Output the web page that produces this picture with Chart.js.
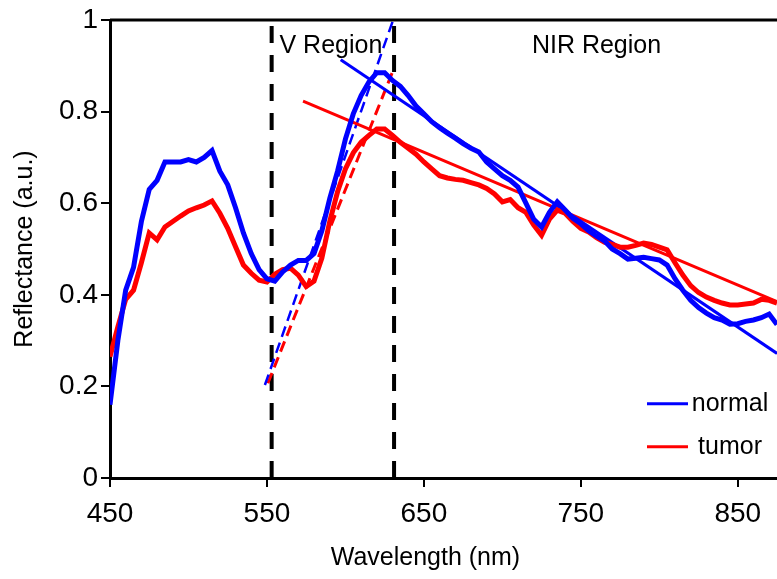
<!DOCTYPE html>
<html>
<head>
<meta charset="utf-8">
<script src="https://cdn.jsdelivr.net/npm/chart.js@4"></script>
<style>
  html, body { margin: 0; padding: 0; background: #fff; }
</style>
</head>
<body>
<canvas id="chart" width="777" height="579"></canvas>
<script>
// wavelength (nm)
const wavelengths = [450, 455, 460, 465, 470, 475, 480, 485, 490, 495,
  500, 505, 510, 515, 520, 525, 530, 535, 540, 545,
  550, 555, 560, 565, 570, 575, 580, 585, 590, 595,
  600, 605, 610, 615, 620, 625, 630, 635, 640, 645,
  650, 655, 660, 665, 670, 675, 680, 685, 690, 695,
  700, 705, 710, 715, 720, 725, 730, 735, 740, 745,
  750, 755, 760, 765, 770, 775, 780, 785, 790, 795,
  800, 805, 810, 815, 820, 825, 830, 835, 840, 845,
  850, 855, 860, 865, 870, 875];

const normal = [0.16, 0.30, 0.41, 0.46, 0.56, 0.63, 0.65, 0.69, 0.69, 0.69,
  0.695, 0.69, 0.70, 0.715, 0.67, 0.64, 0.59, 0.535, 0.49, 0.455,
  0.435, 0.43, 0.45, 0.465, 0.475, 0.475, 0.49, 0.54, 0.61, 0.67,
  0.74, 0.795, 0.835, 0.865, 0.885, 0.885, 0.868, 0.855, 0.835, 0.812,
  0.795, 0.778, 0.765, 0.753, 0.742, 0.73, 0.72, 0.712, 0.69, 0.675,
  0.66, 0.65, 0.635, 0.60, 0.565, 0.548, 0.58, 0.603, 0.585, 0.567,
  0.555, 0.54, 0.528, 0.518, 0.50, 0.49, 0.478, 0.48, 0.482, 0.479,
  0.476, 0.465, 0.435, 0.41, 0.388, 0.372, 0.36, 0.35, 0.345, 0.336,
  0.337, 0.342, 0.345, 0.35, 0.358, 0.335];

const tumor = [0.265, 0.33, 0.39, 0.41, 0.47, 0.535, 0.52, 0.548, 0.56, 0.572,
  0.583, 0.59, 0.596, 0.605, 0.578, 0.545, 0.505, 0.465, 0.447, 0.432,
  0.428, 0.445, 0.455, 0.458, 0.443, 0.418, 0.43, 0.48, 0.56, 0.625,
  0.675, 0.71, 0.733, 0.748, 0.762, 0.762, 0.748, 0.733, 0.72, 0.707,
  0.69, 0.675, 0.66, 0.655, 0.652, 0.65, 0.645, 0.64, 0.632, 0.62,
  0.603, 0.608, 0.59, 0.58, 0.552, 0.53, 0.565, 0.585, 0.578, 0.56,
  0.545, 0.537, 0.525, 0.515, 0.51, 0.504, 0.504, 0.508, 0.513, 0.51,
  0.504, 0.498, 0.47, 0.443, 0.42, 0.405, 0.395, 0.388, 0.382, 0.378,
  0.378, 0.38, 0.382, 0.39, 0.388, 0.382];

// straight fits: NIR (solid) and V region (dashed)
const normalNirX = [597, 875];
const normalNirY = [0.913, 0.272];
const tumorNirX = [573, 875];
const tumorNirY = [0.823, 0.385];
const normalVisX = [548.7, 630];
const normalVisY = [0.203, 0.996];
const tumorVisX = [550.6, 631];
const tumorVisY = [0.207, 0.895];

// region boundaries (nm)
const regionBounds = [553, 631];
const regionNames = ['V Region', 'NIR Region'];

const xTicks = [450, 550, 650, 750, 850];
const yTicks = [0, 0.2, 0.4, 0.6, 0.8, 1];
const xTitle = 'Wavelength (nm)';
const yTitle = 'Reflectance (a.u.)';

const FONT = '"Liberation Sans", Arial, sans-serif';
const pts = (xs, ys) => xs.map((x, i) => ({ x: x, y: ys[i] }));

const datasets = [
  { label: 'normal', data: pts(wavelengths, normal), borderColor: '#0000ff', borderWidth: 5 },
  { label: 'tumor', data: pts(wavelengths, tumor), borderColor: '#ff0000', borderWidth: 5 },
  { label: 'normal NIR fit', data: pts(normalNirX, normalNirY), borderColor: '#0000ff', borderWidth: 3 },
  { label: 'tumor NIR fit', data: pts(tumorNirX, tumorNirY), borderColor: '#ff0000', borderWidth: 3 },
  { label: 'normal V fit', data: pts(normalVisX, normalVisY), borderColor: '#0000ff', borderWidth: 2.5, borderDash: [11, 6] },
  { label: 'tumor V fit', data: pts(tumorVisX, tumorVisY), borderColor: '#ff0000', borderWidth: 3, borderDash: [11, 6] }
];
regionBounds.forEach(b => {
  datasets.push({ label: 'bound', data: [{ x: b, y: 0 }, { x: b, y: 1 }],
    borderColor: '#000', borderWidth: 4, borderDash: [17, 12] });
});
datasets.forEach(d => { d.pointRadius = 0; d.fill = false; d.tension = 0; });

const decor = {
  id: 'decor',
  afterDatasetsDraw(chart) {
    const { ctx, chartArea: a, scales: { x, y } } = chart;
    ctx.save();
    // top frame line
    ctx.strokeStyle = '#000';
    ctx.lineWidth = 3;
    ctx.beginPath();
    ctx.moveTo(a.left, a.top);
    ctx.lineTo(a.right, a.top);
    ctx.stroke();

    ctx.fillStyle = '#000';
    ctx.font = '25px ' + FONT;
    ctx.textBaseline = 'middle';
    ctx.textAlign = 'left';
    ctx.fillText(regionNames[0], x.getPixelForValue(558), y.getPixelForValue(0.943));
    ctx.textAlign = 'center';
    ctx.fillText(regionNames[1], x.getPixelForValue(760), y.getPixelForValue(0.943));

    // x axis title, centred under the 650 tick like the original
    ctx.fillText(xTitle, x.getPixelForValue(651), a.bottom + 80);

    // legend
    chart.data.datasets.slice(0, 2).forEach((ds, i) => {
      const yy = y.getPixelForValue(0.162 - i * 0.094);
      ctx.strokeStyle = ds.borderColor;
      ctx.lineWidth = 3;
      ctx.beginPath();
      ctx.moveTo(a.left + 537, yy);
      ctx.lineTo(a.left + 578, yy);
      ctx.stroke();
      ctx.fillStyle = '#000';
      ctx.textAlign = 'center';
      ctx.fillText(ds.label, a.left + 620, yy);
    });
    ctx.restore();
  }
};

new Chart(document.getElementById('chart').getContext('2d'), {
  type: 'line',
  data: { datasets: datasets },
  options: {
    responsive: false,
    animation: false,
    devicePixelRatio: 1,
    layout: { padding: { top: 20, left: 0, right: 0, bottom: 0 } },
    plugins: { legend: { display: false }, tooltip: { enabled: false } },
    scales: {
      x: {
        type: 'linear', min: 450, max: 875,
        afterBuildTicks: s => { s.ticks = xTicks.map(v => ({ value: v })); },
        afterFit: s => { s.height = 101; },
        ticks: { color: '#000', font: { family: FONT, size: 28 }, padding: 10, maxRotation: 0 },
        grid: { drawOnChartArea: false, drawTicks: true, tickLength: 9, color: '#000', lineWidth: 2 },
        border: { color: '#000', width: 3 },
        title: { display: false }
      },
      y: {
        min: 0, max: 1,
        afterBuildTicks: s => { s.ticks = yTicks.map(v => ({ value: v })); },
        afterFit: s => { s.width = 110; },
        ticks: { color: '#000', font: { family: FONT, size: 28 }, padding: 3,
          callback: v => String(v) },
        grid: { drawOnChartArea: false, drawTicks: true, tickLength: 9, color: '#000', lineWidth: 2 },
        border: { color: '#000', width: 3 },
        title: { display: true, text: yTitle, color: '#000',
          font: { family: FONT, size: 25 }, padding: { top: 10, bottom: 0 } }
      }
    }
  },
  plugins: [decor]
});
</script>
</body>
</html>
